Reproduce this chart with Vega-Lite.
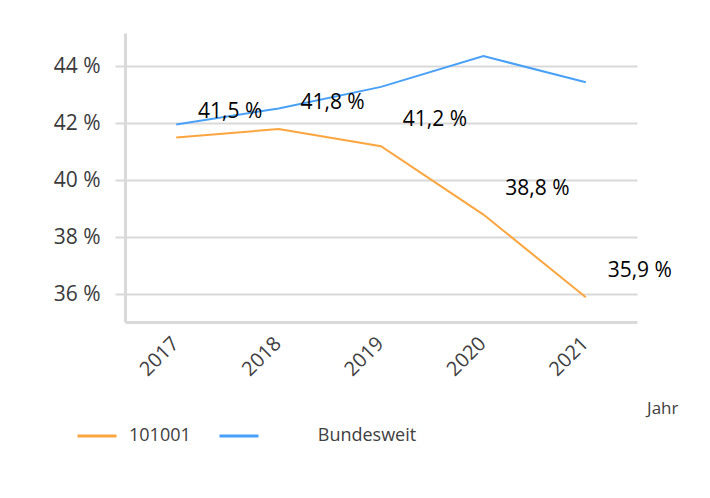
{
  "$schema": "https://vega.github.io/schema/vega-lite/v6.json",
  "width": 512,
  "height": 289,
  "autosize": {"type": "none"},
  "padding": {"left": 125, "top": 33, "right": 73, "bottom": 176},
  "background": "white",
  "data": {
    "values": [
      {"Jahr": "2017", "Reihe": "101001", "Anteil": 0.415},
      {"Jahr": "2018", "Reihe": "101001", "Anteil": 0.418},
      {"Jahr": "2019", "Reihe": "101001", "Anteil": 0.412},
      {"Jahr": "2020", "Reihe": "101001", "Anteil": 0.388},
      {"Jahr": "2021", "Reihe": "101001", "Anteil": 0.359},
      {"Jahr": "2017", "Reihe": "Bundesweit", "Anteil": 0.4196},
      {"Jahr": "2018", "Reihe": "Bundesweit", "Anteil": 0.4252},
      {"Jahr": "2019", "Reihe": "Bundesweit", "Anteil": 0.4328},
      {"Jahr": "2020", "Reihe": "Bundesweit", "Anteil": 0.4436},
      {"Jahr": "2021", "Reihe": "Bundesweit", "Anteil": 0.4344}
    ]
  },
  "encoding": {
    "x": {
      "field": "Jahr",
      "type": "ordinal",
      "scale": {"type": "point", "padding": 0.5},
      "axis": {
        "title": "Jahr",
        "titleX": 553,
        "titleY": 91,
        "titleAlign": "right",
        "titleBaseline": "alphabetic",
        "titleFontSize": 17,
        "titleFontWeight": "normal",
        "titleColor": "#404040",
        "labelAngle": -45,
        "labelFontSize": 20,
        "labelColor": "#404040",
        "labelPadding": 11,
        "labelOffset": -8,
        "ticks": false,
        "grid": false,
        "domainColor": "#d9d9d9",
        "domainWidth": 3
      }
    },
    "y": {
      "field": "Anteil",
      "type": "quantitative",
      "scale": {"domain": [0.3503, 0.4517], "nice": false, "zero": false},
      "axis": {
        "title": null,
        "values": [0.36, 0.38, 0.40, 0.42, 0.44],
        "format": ".0%",
        "labelFontSize": 21,
        "labelColor": "#3a3a3a",
        "labelPadding": 15,
        "tickSize": 10,
        "tickColor": "#d9d9d9",
        "tickWidth": 2,
        "grid": true,
        "gridColor": "#d9d9d9",
        "gridWidth": 2,
        "domainColor": "#d9d9d9",
        "domainWidth": 3
      }
    }
  },
  "layer": [
    {
      "mark": {"type": "line", "strokeWidth": 2},
      "encoding": {
        "color": {
          "field": "Reihe",
          "type": "nominal",
          "scale": {"domain": ["101001", "Bundesweit"], "range": ["#fba53f", "#48a0f8"]},
          "legend": {
            "title": null,
            "orient": "none",
            "legendX": -49,
            "legendY": 382,
            "direction": "horizontal",
            "symbolType": "stroke",
            "symbolSize": 1521,
            "symbolStrokeWidth": 3,
            "labelFontSize": 18,
            "labelColor": "#404040",
            "labelOffset": 11,
            "columnPadding": 22,
            "labelExpr": "datum.label == 'Bundesweit' ? '\u200b\u00a0\u00a0\u00a0\u00a0\u00a0\u00a0\u00a0\u00a0\u00a0\u00a0' + datum.label : datum.label"
          }
        }
      }
    },
    {
      "transform": [{"filter": "datum.Reihe == '101001'"}],
      "mark": {"type": "text", "fontSize": 21, "color": "#000000", "dx": 54, "dy": -26, "align": "center", "baseline": "middle"},
      "encoding": {
        "text": {"field": "Anteil", "type": "quantitative", "format": ".1%"}
      }
    }
  ],
  "config": {
    "font": "Open Sans",
    "view": {"stroke": null},
    "locale": {
      "number": {"decimal": ",", "thousands": ".", "grouping": [3], "currency": ["", " €"], "percent": " %"}
    }
  }
}
